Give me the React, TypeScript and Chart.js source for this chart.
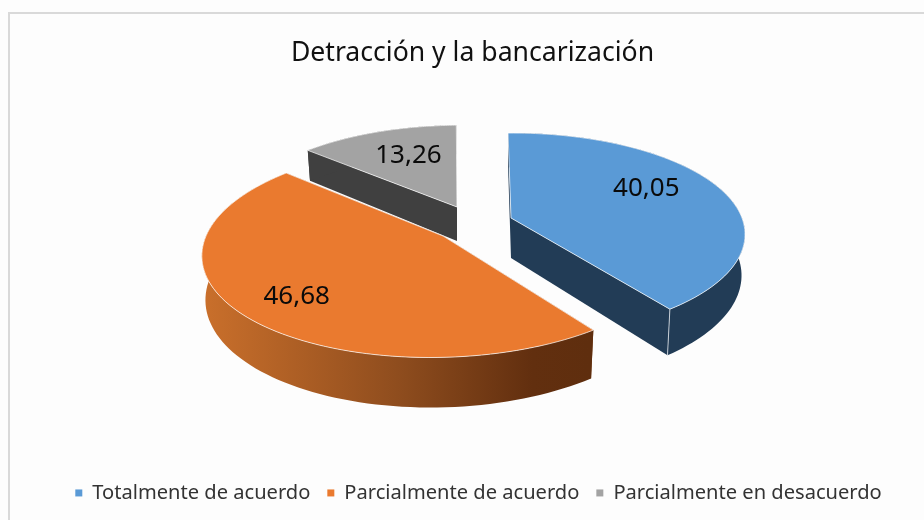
import React, { useEffect, useRef } from "react";
import { Chart, registerables } from "chart.js";

Chart.register(...registerables);

const categories = ["Totalmente de acuerdo", "Parcialmente de acuerdo", "Parcialmente en desacuerdo"];
const values = [40.05, 46.68, 13.26];
const colors = ["#5a9ad6", "#ea7a2f", "#a3a3a3"];
const titleText = "Detracción y la bancarización";

// drawing style of the 3D look
const FONT = "'Noto Sans', sans-serif";
const PERSPECTIVE = [0.165, 0.14, 0.174];
const APEX = [
  { x: 511, y: 218 },
  { x: 443, y: 236 },
  { x: 457, y: 207 },
];
const RX = [231, 237, 224];
const RY = [99, 104.5, 96];
const SHEAR = [-1, -11, -3.5];
const DEPTH = [40, 43, 34];
const WALL = ["#223c56", "#7a4018", "#404040"];
const LABEL = [
  { r: 0.64, dy: -9 },
  { r: 0.75, dy: 3 },
  { r: 0.58, dy: -5 },
];
const PAINT_ORDER = [2, 0, 1];
const LEGEND_SHIFT = 6;

type P = { x: number; y: number };

function project(i: number, theta: number, r: number, low: boolean): P {
  const u = Math.sin(theta) * r;
  const v = -Math.cos(theta) * r;
  const w = 1 - PERSPECTIVE[i] * v;
  const shrink = low ? 0.985 : 1;
  return {
    x: APEX[i].x + ((u * RX[i] + v * SHEAR[i]) * shrink) / w,
    y: APEX[i].y + (v * RY[i]) / w + (low ? DEPTH[i] / w : 0),
  };
}

function arcPoints(i: number, a: number, b: number, low: boolean): P[] {
  const pts: P[] = [];
  const n = 90;
  for (let s = 0; s <= n; s++) pts.push(project(i, a + ((b - a) * s) / n, 1, low));
  return pts;
}

function trace(ctx: CanvasRenderingContext2D, pts: P[]) {
  ctx.beginPath();
  pts.forEach((p, k) => (k ? ctx.lineTo(p.x, p.y) : ctx.moveTo(p.x, p.y)));
  ctx.closePath();
}

const pie3d = {
  id: "pie3d",
  afterLayout(chart: any) {
    chart.legend.left += LEGEND_SHIFT;
    chart.legend.right += LEGEND_SHIFT;
  },
  beforeDraw(chart: any) {
    const { ctx, width, height } = chart;
    ctx.save();
    ctx.fillStyle = "#fdfdfd";
    ctx.fillRect(0, 0, width, height);
    ctx.fillStyle = "#d9d9d9";
    ctx.fillRect(8, 12, width - 8, 2);
    ctx.fillRect(8, 12, 2, height - 12);
    ctx.restore();
  },
  beforeDatasetsDraw(chart: any) {
    const { ctx } = chart;
    const arcs = chart.getDatasetMeta(0).data;
    ctx.save();
    for (const i of PAINT_ORDER) {
      const arc = arcs[i];
      const a = arc.startAngle + Math.PI / 2;
      const b = arc.endAngle + Math.PI / 2;
      const topRim = arcPoints(i, a, b, false);
      const lowRim = arcPoints(i, a, b, true);
      const apexTop = project(i, 0, 0, false);
      const apexLow = project(i, 0, 0, true);

      // radial walls
      ctx.fillStyle = WALL[i];
      trace(ctx, [apexTop, topRim[0], lowRim[0], apexLow]);
      ctx.fill();
      trace(ctx, [apexTop, topRim[topRim.length - 1], lowRim[lowRim.length - 1], apexLow]);
      ctx.fill();

      // outer wall
      let wallFill: any = WALL[i];
      if (i === 1) {
        const g = ctx.createLinearGradient(205, 0, 590, 0);
        g.addColorStop(0, "#c96f2b");
        g.addColorStop(0.5, "#8f4d1e");
        g.addColorStop(0.85, "#622f0f");
        g.addColorStop(1, "#5f2e0e");
        wallFill = g;
      }
      ctx.fillStyle = wallFill;
      trace(ctx, [...topRim, ...lowRim.slice().reverse()]);
      ctx.fill();

      // corner edge between the walls
      const endTop = topRim[topRim.length - 1];
      const endLow = lowRim[lowRim.length - 1];
      ctx.strokeStyle = "rgba(225,230,235,0.8)";
      ctx.lineWidth = 1;
      if (i === 0) {
        ctx.beginPath();
        ctx.moveTo(endTop.x, endTop.y);
        ctx.lineTo(endLow.x, endLow.y);
        ctx.stroke();
      }

      // top face
      ctx.fillStyle = colors[i];
      trace(ctx, [apexTop, ...topRim]);
      ctx.fill();
      ctx.strokeStyle = "rgba(255,255,255,0.7)";
      ctx.stroke();
    }
    ctx.restore();
    return false;
  },
  afterDraw(chart: any) {
    const { ctx } = chart;
    const arcs = chart.getDatasetMeta(0).data;
    ctx.save();
    ctx.fillStyle = "#0a0a0a";
    ctx.font = `26px ${FONT}`;
    ctx.textAlign = "center";
    ctx.textBaseline = "middle";
    arcs.forEach((arc: any, i: number) => {
      const mid = (arc.startAngle + arc.endAngle) / 2 + Math.PI / 2;
      const p = project(i, mid, LABEL[i].r, false);
      ctx.fillText(values[i].toFixed(2).replace(".", ","), p.x, p.y + LABEL[i].dy);
    });
    ctx.restore();
  },
};

export default function App() {
  const ref = useRef<HTMLCanvasElement | null>(null);
  useEffect(() => {
    document.body.style.margin = "0";
    const chart = new Chart(ref.current as HTMLCanvasElement, {
      type: "pie",
      data: {
        labels: categories,
        datasets: [{ data: values, backgroundColor: colors, borderWidth: 0 }],
      },
      options: {
        responsive: false,
        animation: false,
        rotation: -1.1,
        layout: { padding: { top: 37, bottom: 7, left: 21 } },
        plugins: {
          tooltip: { enabled: false },
          title: {
            display: true,
            text: titleText,
            color: "#111111",
            font: { family: FONT, size: 26.6, weight: "normal" },
            padding: { top: 0, bottom: 10 },
          },
          legend: {
            position: "bottom",
            labels: {
              usePointStyle: true,
              pointStyle: "rect",
              boxHeight: 7,
              boxWidth: 7,
              color: "#333333",
              padding: 17,
              font: { family: FONT, size: 20.1 },
            },
          },
        },
      },
      plugins: [pie3d],
    } as any);
    return () => chart.destroy();
  }, []);
  return (
    <div style={{ width: 924, height: 520 }}>
      <canvas ref={ref} width={924} height={520} style={{ display: "block" }} />
    </div>
  );
}
